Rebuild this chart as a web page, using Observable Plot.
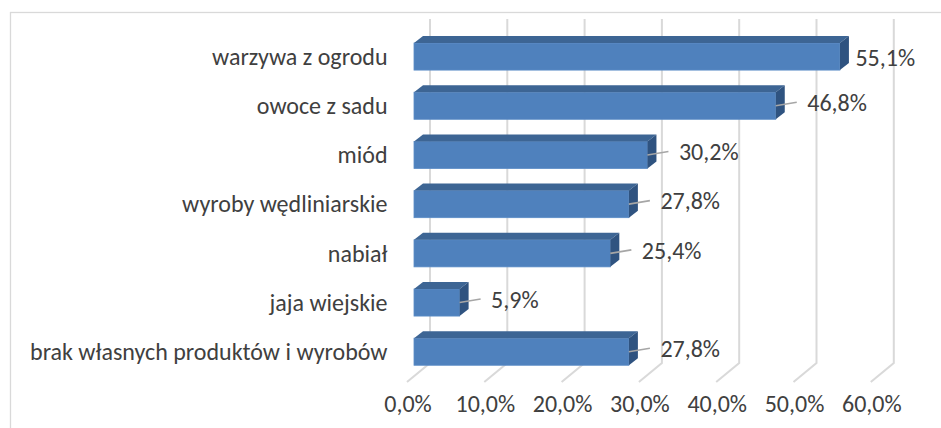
<!DOCTYPE html>
<html><head><meta charset="utf-8">
<script src="https://cdn.jsdelivr.net/npm/d3@7"></script>
<script src="https://cdn.jsdelivr.net/npm/@observablehq/plot@0.6"></script>
<style>body{margin:0;background:#fff}</style>
</head><body><div id="chart"></div>
<script>
const categories = ["warzywa z ogrodu","owoce z sadu","miód","wyroby wędliniarskie","nabiał","jaja wiejskie","brak własnych produktów i wyrobów"];
const values = [55.1, 46.8, 30.2, 27.8, 25.4, 5.9, 27.8];
const tickValues = [0, 10, 20, 30, 40, 50, 60];
const tickLabels = ["0,0%","10,0%","20,0%","30,0%","40,0%","50,0%","60,0%"];

const data = categories.map((c, i) => ({category: c, value: values[i]}));
const ticks = tickValues.map((t, i) => ({t, label: tickLabels[i]}));
const fmt = v => v.toFixed(1).replace(".", ",") + "%";
const maxV = d3.max(values);
const DX = 9, DY = -7;          // bar depth (3D look)
const GX = 16, FX = -7, FY = 19; // back wall / floor offsets
const FONT = "Carlito, Lato, 'Open Sans', sans-serif";
const TEXT = "#404040";
const FS = 24;

const bw = s => typeof s.bandwidth === "function" ? s.bandwidth() : s.bandwidth;

const chart = Plot.plot({
  width: 941, height: 428,
  marginTop: 19, marginBottom: 65, marginLeft: 0, marginRight: 0,
  style: {fontFamily: FONT, background: "#fff", overflow: "visible"},
  x: {domain: [0, 60], range: [414, 414 + 7.73 * 60], axis: null},
  y: {domain: categories, range: [20.9, 387.4], padding: 0.45, round: false, axis: null},
  marks: [
    // border, back-wall gridlines and floor diagonals
    (index, scales, vals, dims) => {
      const g = d3.create("svg:g");
      g.append("rect").attr("x", 10.5).attr("y", 12.5).attr("width", 940).attr("height", 430)
        .attr("fill", "none").attr("stroke", "#D9D9D9").attr("stroke-width", 1.3);
      const top = dims.marginTop, bot = dims.height - dims.marginBottom;
      for (const t of tickValues) {
        const x = scales.x(t);
        g.append("path")
          .attr("d", `M${x + GX},${top}L${x + GX},${bot}L${x + FX},${bot + FY}`)
          .attr("fill", "none").attr("stroke", "#D9D9D9").attr("stroke-width", 2);
      }
      return g.node();
    },
    Plot.barX(data, {x: "value", y: "category", fill: "#4F81BD", stroke: "#5B8CC6", strokeWidth: 0.8}),
    // top and side faces
    (index, scales) => {
      const g = d3.create("svg:g");
      const h = bw(scales.y);
      for (const d of data) {
        const x0 = scales.x(0), x1 = scales.x(d.value), y = scales.y(d.category);
        g.append("path").attr("d", `M${x0},${y}L${x1},${y}L${x1 + DX},${y + DY}L${x0 + DX},${y + DY}Z`)
          .attr("fill", "#3D6594");
        g.append("path").attr("d", `M${x1},${y}L${x1 + DX},${y + DY}L${x1 + DX},${y + h + DY}L${x1},${y + h}Z`)
          .attr("fill", "#2F5380");
      }
      return g.node();
    },
    // leader lines
    (index, scales) => {
      const g = d3.create("svg:g");
      const h = bw(scales.y);
      for (const d of data) {
        if (d.value === maxV) continue;
        const x = scales.x(d.value), y = scales.y(d.category) + h / 2;
        g.append("path").attr("d", `M${x},${y}L${x + 21},${y - 3.5}`)
          .attr("stroke", "#A6A6A6").attr("stroke-width", 1.6).attr("fill", "none");
      }
      return g.node();
    },
    Plot.text(data, {x: 0, y: "category", text: "category", textAnchor: "end", dx: -27, fontSize: FS, fill: TEXT}),
    Plot.text(data.filter(d => d.value !== maxV), {x: "value", y: "category", text: d => fmt(d.value), textAnchor: "start", dx: 31, dy: -3, fontSize: FS, fill: TEXT}),
    Plot.text(data.filter(d => d.value === maxV), {x: "value", y: "category", text: d => fmt(d.value), textAnchor: "start", dx: 15, dy: 1, fontSize: FS, fill: TEXT}),
    Plot.text(ticks, {x: "t", text: "label", frameAnchor: "bottom", dx: -6.5, dy: 48, fontSize: FS, fill: TEXT})
  ]
});
document.getElementById("chart").appendChild(chart);
</script>
</body></html>
